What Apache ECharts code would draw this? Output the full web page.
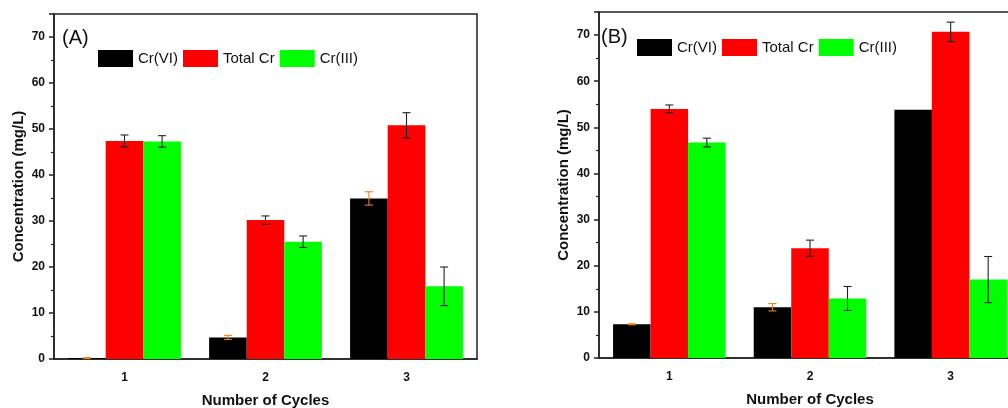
<!DOCTYPE html>
<html>
<head>
<meta charset="utf-8">
<script src="https://cdn.jsdelivr.net/npm/echarts@6/dist/echarts.min.js"></script>
<style>html,body{margin:0;padding:0;background:#fff;}#c{width:1008px;height:408px;}</style>
</head>
<body>
<div id="c"></div>
<script>
const categories = ['1', '2', '3'];
const seriesNames = ['Cr(VI)', 'Total Cr', 'Cr(III)'];
const panelLabels = ['(A)', '(B)'];
const xAxisTitle = 'Number of Cycles';
const yAxisTitle = 'Concentration (mg/L)';

// Panel A
const aCrVI = [0.2, 4.7, 34.9];
const aTotal = [47.4, 30.2, 50.8];
const aCrIII = [47.3, 25.5, 15.8];
const aCrVIErr = [0.1, 0.45, 1.45];
const aTotalErr = [1.3, 0.9, 2.75];
const aCrIIIErr = [1.25, 1.25, 4.2];
// Panel B
const bCrVI = [7.3, 11.0, 53.8];
const bTotal = [54.0, 23.8, 70.7];
const bCrIII = [46.7, 12.9, 17.0];
const bCrVIErr = [0.1, 0.8, 0];
const bTotalErr = [0.85, 1.75, 2.1];
const bCrIIIErr = [0.95, 2.6, 5.0];

const colors = ['#000000', '#ff0000', '#00ff00'];
const errColors = ['#e8801a', '#222222', '#222222'];
const FONT = "'Liberation Sans', Arial, sans-serif";

const chart = echarts.init(document.getElementById('c'), null, {renderer: 'canvas'});

function makeX(gi) {
  return [{
    type: 'category', gridIndex: gi, data: categories,
    axisLine: {lineStyle: {color: '#222', width: 1.5}},
    axisTick: {alignWithLabel: true, length: 5, lineStyle: {color: '#222', width: 1.5}},
    axisLabel: {color: '#111', fontFamily: FONT, fontWeight: 'bold', fontSize: 12, margin: 13},
    name: xAxisTitle, nameLocation: 'middle', nameGap: 34,
    nameTextStyle: {color: '#111', fontFamily: FONT, fontWeight: 'bold', fontSize: 15}
  }, {
    type: 'category', gridIndex: gi, data: categories,
    axisLine: {show: false},
    axisTick: {length: 3, lineStyle: {color: '#222', width: 1.2}},
    axisLabel: {show: false}
  }];
}
function makeY(gi) {
  return {
    type: 'value', gridIndex: gi, min: 0, max: 75, interval: 10,
    axisLine: {show: true, lineStyle: {color: '#222', width: 1.5}},
    axisTick: {show: true, length: 5, lineStyle: {color: '#222', width: 1.5}},
    minorTick: {show: true, splitNumber: 2, length: 3, lineStyle: {color: '#222', width: 1.2}},
    splitLine: {show: false},
    axisLabel: {color: '#111', fontFamily: FONT, fontWeight: 'bold', fontSize: 12, margin: 9, showMaxLabel: false,
      formatter: v => (v % 10 === 0 ? String(v) : '')},
    name: yAxisTitle, nameLocation: 'middle', nameGap: 28,
    nameTextStyle: {color: '#111', fontFamily: FONT, fontWeight: 'bold', fontSize: 15}
  };
}

function barSeries(gi, vals) {
  return vals.map((v, i) => ({
    type: 'bar', name: seriesNames[i], xAxisIndex: gi * 2, yAxisIndex: gi,
    data: v, barGap: '0%', barCategoryGap: '20%',
    itemStyle: {color: colors[i]}, emphasis: {disabled: true}
  }));
}
function errSeries(gi, vals, errs) {
  const data = [];
  vals.forEach((v, s) => v.forEach((y, c) => data.push([c, y, errs[s][c], s])));
  return {
    type: 'custom', xAxisIndex: gi * 2, yAxisIndex: gi, z: 10,
    encode: {x: 0, y: 1},
    data: data,
    renderItem: function (params, api) {
      const c = api.value(0), y = api.value(1), e = api.value(2), s = api.value(3);
      if (!e) return null;
      const band = api.size([1, 0])[0];
      const bw = band * 0.8 / 3;
      const cx = api.coord([c, y])[0] + (s - 1) * bw;
      const hi = api.coord([c, y + e])[1];
      const lo = api.coord([c, y - e])[1];
      const cap = 4;
      const st = {stroke: errColors[s], lineWidth: 1.1};
      return {type: 'group', children: [
        {type: 'line', shape: {x1: cx, y1: hi, x2: cx, y2: lo}, style: st},
        {type: 'line', shape: {x1: cx - cap, y1: hi, x2: cx + cap, y2: hi}, style: st},
        {type: 'line', shape: {x1: cx - cap, y1: lo, x2: cx + cap, y2: lo}, style: st}
      ]};
    }
  };
}

const legendBase = {
  orient: 'horizontal', itemWidth: 35, itemHeight: 17, itemGap: 5, icon: 'rect', padding: 0,
  textStyle: {color: '#111', fontFamily: FONT, fontSize: 15, padding: [0, 0, 0, 0]},
  data: seriesNames, selectedMode: false
};

const option = {
  backgroundColor: '#fff',
  animation: false,
  grid: [
    {left: 54, top: 14, width: 423, height: 345, outerBoundsMode: 'none', containLabel: false, show: true, borderColor: '#222', borderWidth: 1.5, backgroundColor: 'transparent'},
    {left: 599, top: 12, width: 422, height: 346, outerBoundsMode: 'none', containLabel: false, show: true, borderColor: '#222', borderWidth: 1.5, backgroundColor: 'transparent'}
  ],
  xAxis: makeX(0).concat(makeX(1)),
  yAxis: [makeY(0), makeY(1)],
  legend: [
    Object.assign({}, legendBase, {left: 98, top: 50}),
    Object.assign({}, legendBase, {left: 637, top: 39})
  ],
  graphic: [
    {type: 'text', left: 62, top: 28, style: {text: panelLabels[0], fill: '#111', font: '20px ' + FONT}},
    {type: 'text', left: 601, top: 27, style: {text: panelLabels[1], fill: '#111', font: '20px ' + FONT}}
  ],
  series: [].concat(
    barSeries(0, [aCrVI, aTotal, aCrIII]),
    barSeries(1, [bCrVI, bTotal, bCrIII]),
    [errSeries(0, [aCrVI, aTotal, aCrIII], [aCrVIErr, aTotalErr, aCrIIIErr]),
     errSeries(1, [bCrVI, bTotal, bCrIII], [bCrVIErr, bTotalErr, bCrIIIErr])]
  )
};
chart.setOption(option);
</script>
</body>
</html>
